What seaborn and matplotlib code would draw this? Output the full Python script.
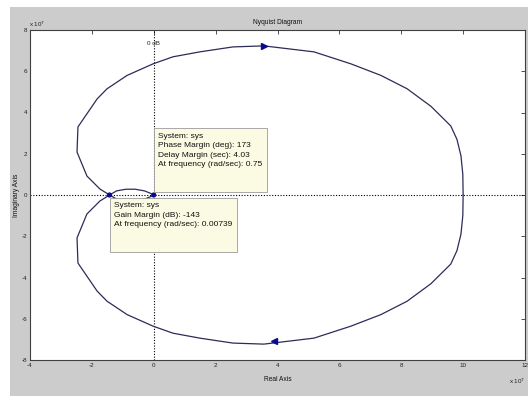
import matplotlib
matplotlib.use("Agg")
import matplotlib.pyplot as plt
import matplotlib.patches as mpatches
import pandas as pd
import seaborn as sns

# Upper (positive-frequency) branch of the Nyquist curve, in units of 1e7
upper_re = [10.0, 9.99, 9.93, 9.8, 9.6, 8.96, 8.19, 7.34, 6.37, 5.18, 3.56, 2.56,
            1.49, 0.62, -0.02, -0.86, -1.51, -1.83, -2.45, -2.48, -2.16, -1.74,
            -1.48, -1.43]
upper_im = [0.0, 1.0, 1.9, 2.7, 3.35, 4.3, 5.15, 5.8, 6.36, 6.94, 7.23, 7.18,
            6.94, 6.7, 6.36, 5.8, 5.15, 4.66, 3.3, 2.08, 0.92, 0.29, 0.05, 0.0]
# Small loop between the gain-margin point and the origin
loop_re = [-1.43, -1.2, -0.9, -0.6, -0.3, -0.1, 0.0]
loop_im = [0.0, 0.2, 0.28, 0.28, 0.2, 0.08, 0.0]

# Direction arrows and margin markers
arrow_re = [3.56, 3.9]
arrow_im = [7.23, -7.1]
margin_re = [-1.43, 0.0]
margin_im = [0.0, 0.0]

x_ticks = [-4, -2, 0, 2, 4, 6, 8, 10, 12]
y_ticks = [-8, -6, -4, -2, 0, 2, 4, 6, 8]

pm_text = ("System: sys\nPhase Margin (deg): 173\nDelay Margin (sec): 4.03\n"
           "At frequency (rad/sec): 0.75\n \n ")
gm_text = "System: sys\nGain Margin (dB): -143\nAt frequency (rad/sec): 0.00739\n \n "

sns.set_theme(style="white")
plt.rcParams["font.family"] = ["Liberation Sans", "DejaVu Sans"]

W, H = 528, 396
fig = plt.figure(figsize=(W / 100, H / 100), dpi=100, facecolor="#cccccc")
# white margins on the left and top
fig.patches.append(mpatches.Rectangle((0, 0), 10 / W, 1, transform=fig.transFigure,
                                      facecolor="white", edgecolor="none", zorder=0))
fig.patches.append(mpatches.Rectangle((0, 1 - 7 / H), 1, 7 / H, transform=fig.transFigure,
                                      facecolor="white", edgecolor="none", zorder=0))

ax = fig.add_axes([30 / W, (H - 360) / H, 495 / W, 330 / H])
ax.set_facecolor("white")

curve_col = "#2c2c58"
# Both branches: positive frequencies and their complex conjugates
branches = [
    (upper_re, upper_im),
    (upper_re, [-v for v in upper_im]),
    (loop_re, loop_im),
    (loop_re, [-v for v in loop_im]),
]
for re, im in branches:
    df = pd.DataFrame({"re": re, "im": im})
    sns.lineplot(data=df, x="re", y="im", sort=False, estimator=None, errorbar=None,
                 color=curve_col, lw=0.9, ax=ax, zorder=3)

ax.axhline(0, color="black", ls=(0, (1, 1.5)), lw=0.8, zorder=2)
ax.axvline(0, color="black", ls=(0, (1, 1.5)), lw=0.8, zorder=2)

ax.plot(arrow_re[0], arrow_im[0], marker=">", color="#0a0a8a", ms=5, zorder=4)
ax.plot(arrow_re[1], arrow_im[1], marker="<", color="#0a0a8a", ms=5, zorder=4)
sns.scatterplot(x=margin_re, y=margin_im, color="#0a0a8a", s=14, edgecolor="none", ax=ax, zorder=5)

ax.set_xlim(-4, 12)
ax.set_ylim(-8, 8)
ax.set_xticks(x_ticks)
ax.set_yticks(y_ticks)
ax.set_xticklabels([str(t) for t in x_ticks])
ax.set_yticklabels([str(t) for t in y_ticks])
ax.tick_params(direction="in", length=3, width=0.6, colors="#333333", labelsize=4.5,
               top=True, right=True, pad=2)
ax.tick_params(axis="both", labelcolor="#222222")
for s in ax.spines.values():
    s.set_color("#404040")
    s.set_linewidth(0.8)

ax.set_xlabel("Real Axis", fontsize=4.8, labelpad=6, color="#111111")
ax.set_ylabel("Imaginary Axis", fontsize=4.8, labelpad=1.5, color="#111111")
ax.set_title("Nyquist Diagram", fontsize=4.8, pad=4, color="#111111")

ax.text(0, 7.35, "0 dB", fontsize=4.5, ha="center", va="center", color="#222222", zorder=4)
fig.text(29 / W, 1 - 24 / H, r"x 10$^7$", fontsize=4.5, ha="left", va="center", color="#222222")
fig.text(509 / W, 1 - 381 / H, r"x 10$^7$", fontsize=4.5, ha="left", va="center", color="#222222")

box = dict(boxstyle="square,pad=0.55", facecolor="#fbfbe4", edgecolor="#9a9a9a", lw=0.6)
ax.text(0.15, 3.03, pm_text, fontsize=6, ha="left", va="top", linespacing=1.5,
        color="#111111", bbox=box, zorder=6)
ax.text(-1.27, -0.36, gm_text, fontsize=6, ha="left", va="top", linespacing=1.5,
        color="#111111", bbox=box, zorder=6)

fig.savefig("out.png", dpi=100, facecolor=fig.get_facecolor())
